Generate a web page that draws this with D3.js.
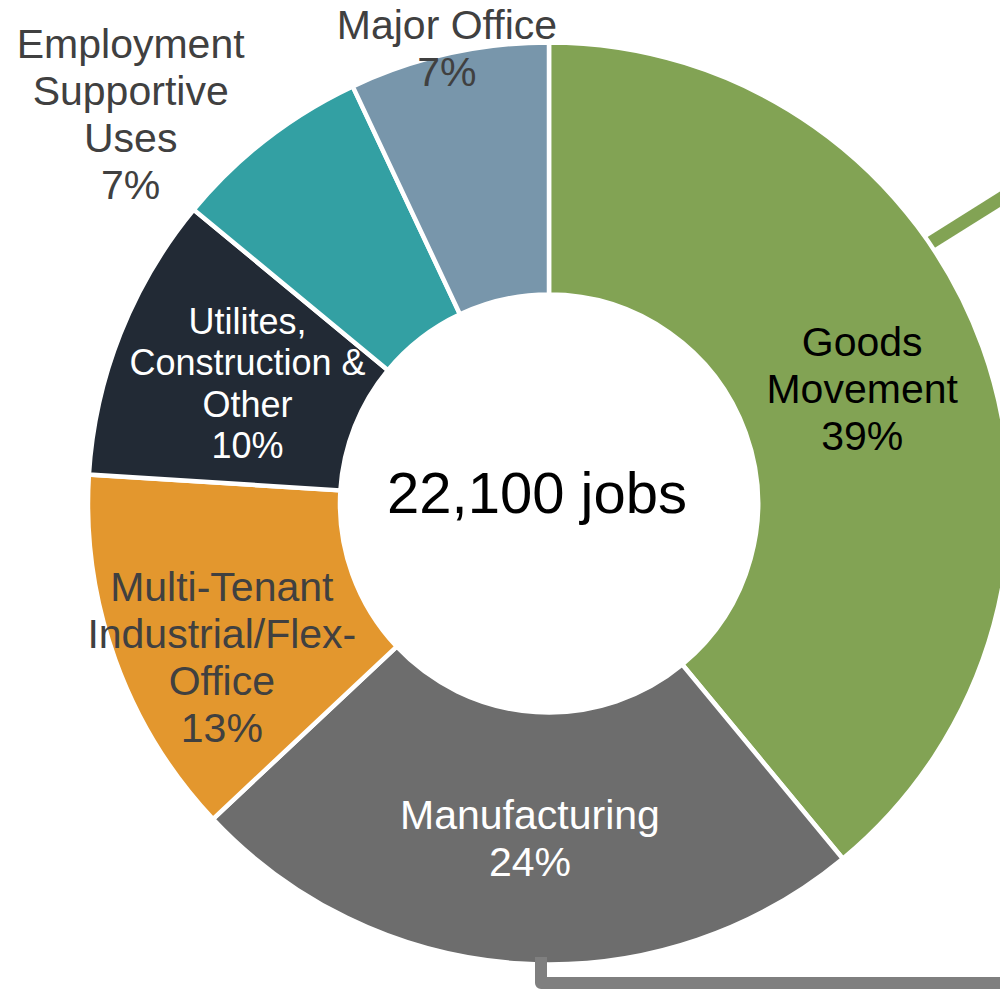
<!DOCTYPE html>
<html>
<head>
<meta charset="utf-8">
<script src="https://cdn.jsdelivr.net/npm/d3@7"></script>
<style>
  html, body { margin: 0; padding: 0; background: #ffffff; }
  svg { display: block; }
  text { font-family: "Liberation Sans", Arial, Helvetica, sans-serif; }
</style>
</head>
<body>
<svg id="chart" width="1000" height="994"></svg>
<script>
// Job mix by land-use category (share of total, %)
const categories = [
  "Goods Movement",
  "Manufacturing",
  "Multi-Tenant Industrial/Flex-Office",
  "Utilites, Construction & Other",
  "Employment Supportive Uses",
  "Major Office"
];
const shares = [39, 24, 13, 10, 7, 7];
const labelLines = [
  ["Goods", "Movement"],
  ["Manufacturing"],
  ["Multi-Tenant", "Industrial/Flex-", "Office"],
  ["Utilites,", "Construction &", "Other"],
  ["Employment", "Supportive", "Uses"],
  ["Major Office"]
];
const totalJobs = 22100;

// Styling and layout
const sliceColors = ["#82a354", "#6d6d6d", "#e3972e", "#222a35", "#33a0a3", "#7896ab"];
const labelColors = ["#000000", "#ffffff", "#404040", "#ffffff", "#404040", "#404040"];
const labelSizes  = [41, 41, 41, 36, 41, 41];
// label block offsets from the slice centroid
const labelOffsets = [[-2, -2], [2, 0], [-12, 40], [10, 3], [-213, -125], [-29, -129]];

const width = 1000, height = 994;
const cx = 549, cy = 503.5;
const outerR = 461, innerR = 209, labelR = 335;

const svg = d3.select("#chart");

// Connector leading off to the upper right (beneath the ring)
const connectorsBelow = svg.append("g").attr("fill", "none").attr("stroke-linecap", "butt");
const gAngle = 55.6 * Math.PI / 180;
const gStart = [cx + (outerR - 12) * Math.sin(gAngle), cy - (outerR - 12) * Math.cos(gAngle)];
connectorsBelow.append("path")
  .attr("d", d3.line()([gStart, [1010, 193]]))
  .attr("stroke", sliceColors[0])
  .attr("stroke-width", 13);

// Ring
const pie = d3.pie().sort(null).value(d => d).startAngle(0).endAngle(2 * Math.PI);
const arcs = pie(shares);
const arc = d3.arc().innerRadius(innerR).outerRadius(outerR);
const labelArc = d3.arc().innerRadius(labelR).outerRadius(labelR);

const ring = svg.append("g").attr("transform", `translate(${cx},${cy})`);
ring.selectAll("path.slice")
  .data(arcs)
  .join("path")
  .attr("class", "slice")
  .attr("d", arc)
  .attr("fill", (d, i) => sliceColors[i])
  .attr("stroke", "#ffffff")
  .attr("stroke-width", 4.5)
  .attr("stroke-linejoin", "miter");

// Connector leaving the bottom of the ring
svg.append("path")
  .attr("d", d3.line()([[541, 957], [541, 983], [1010, 983]]))
  .attr("fill", "none")
  .attr("stroke", "#7f7f7f")
  .attr("stroke-width", 12)
  .attr("stroke-linecap", "butt")
  .attr("stroke-linejoin", "round");

// Category labels
const labels = ring.selectAll("text.label")
  .data(arcs)
  .join("text")
  .attr("class", "label")
  .attr("text-anchor", "middle")
  .attr("fill", (d, i) => labelColors[i])
  .attr("font-size", (d, i) => labelSizes[i]);

labels.each(function (d, i) {
  const [x0, y0] = labelArc.centroid(d);
  const x = x0 + labelOffsets[i][0];
  const yc = y0 + labelOffsets[i][1];
  const size = labelSizes[i];
  const lineH = size * 1.15;
  const lines = labelLines[i].concat([shares[i] + "%"]);
  const first = yc - (lines.length - 1) / 2 * lineH + size * 0.358;
  d3.select(this).selectAll("tspan")
    .data(lines)
    .join("tspan")
    .attr("x", x)
    .attr("y", (t, k) => first + k * lineH)
    .text(t => t);
});

// Total in the centre
ring.append("text")
  .attr("x", -12)
  .attr("y", 9.5)
  .attr("text-anchor", "middle")
  .attr("font-size", 58)
  .attr("fill", "#000000")
  .text(d3.format(",")(totalJobs) + " jobs");
</script>
</body>
</html>
